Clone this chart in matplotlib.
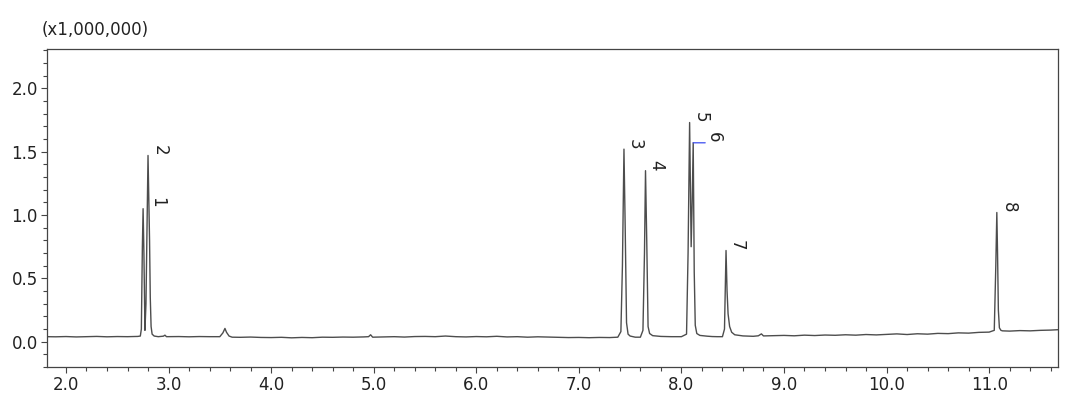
import matplotlib
matplotlib.use('Agg')
import matplotlib.pyplot as plt
from matplotlib.ticker import MultipleLocator, FormatStrFormatter

# chromatogram trace (time in min, signal in x1,000,000)
trace_time = [
    1.815, 1.90, 2.00, 2.10, 2.20, 2.30, 2.40, 2.50, 2.60, 2.70, 2.725,
    2.735, 2.745, 2.752, 2.760, 2.770, 2.780, 2.790, 2.800, 2.808, 2.815,
    2.822, 2.830, 2.840, 2.860, 2.900, 2.950, 2.965, 2.980, 3.10, 3.20,
    3.30, 3.40, 3.50, 3.530, 3.550, 3.565, 3.590, 3.620, 3.70, 3.80,
    3.90, 4.00, 4.10, 4.20, 4.30, 4.40, 4.50, 4.60, 4.70, 4.80,
    4.90, 4.950, 4.970, 4.990, 5.10, 5.20, 5.30, 5.40, 5.50, 5.60,
    5.70, 5.80, 5.90, 6.00, 6.10, 6.20, 6.30, 6.40, 6.50, 6.60,
    6.70, 6.80, 6.90, 7.00, 7.10, 7.20, 7.30, 7.38, 7.410, 7.425,
    7.440, 7.452, 7.465, 7.480, 7.500, 7.550, 7.600, 7.625, 7.640, 7.650,
    7.662, 7.675, 7.690, 7.720, 7.800, 7.900, 8.000, 8.050, 8.065, 8.080,
    8.095, 8.105, 8.115, 8.125, 8.135, 8.150, 8.180, 8.250, 8.300, 8.350,
    8.400, 8.420, 8.435, 8.445, 8.455, 8.470, 8.490, 8.520, 8.600, 8.700,
    8.750, 8.780, 8.800, 8.900, 9.000, 9.100, 9.200, 9.300, 9.400, 9.500,
    9.600, 9.700, 9.800, 9.900, 10.00, 10.10, 10.20, 10.30, 10.40, 10.50,
    10.60, 10.70, 10.80, 10.90, 11.00, 11.050, 11.065, 11.075, 11.082, 11.090,
    11.100, 11.115, 11.130, 11.200, 11.300, 11.400, 11.500, 11.600, 11.670,
]
trace_signal = [
    0.040, 0.039, 0.041, 0.038, 0.040, 0.042, 0.039, 0.041, 0.040, 0.042, 0.045,
    0.10, 0.75, 1.05, 0.70, 0.09, 0.30, 0.90, 1.47, 1.10, 0.80,
    0.35, 0.12, 0.06, 0.045, 0.040, 0.044, 0.052, 0.040, 0.041, 0.039,
    0.041, 0.040, 0.040, 0.070, 0.105, 0.075, 0.045, 0.036, 0.035, 0.037,
    0.034, 0.033, 0.035, 0.031, 0.034, 0.032, 0.036, 0.035, 0.037, 0.036,
    0.038, 0.040, 0.055, 0.036, 0.038, 0.040, 0.037, 0.041, 0.042, 0.040,
    0.045, 0.040, 0.038, 0.041, 0.039, 0.043, 0.038, 0.040, 0.036, 0.039,
    0.037, 0.035, 0.033, 0.034, 0.032, 0.034, 0.033, 0.036, 0.080, 0.60,
    1.52, 0.90, 0.15, 0.060, 0.045, 0.036, 0.036, 0.090, 0.70, 1.35,
    0.80, 0.12, 0.065, 0.048, 0.042, 0.040, 0.040, 0.060, 0.70, 1.73,
    0.75, 1.10, 1.57, 0.55, 0.13, 0.065, 0.050, 0.044, 0.041, 0.040,
    0.040, 0.10, 0.72, 0.40, 0.22, 0.12, 0.075, 0.055, 0.046, 0.043,
    0.047, 0.062, 0.046, 0.048, 0.050, 0.047, 0.052, 0.049, 0.053, 0.051,
    0.055, 0.052, 0.057, 0.054, 0.058, 0.062, 0.057, 0.063, 0.060, 0.066,
    0.064, 0.070, 0.068, 0.074, 0.076, 0.090, 0.60, 1.02, 0.70, 0.25,
    0.11, 0.090, 0.086, 0.084, 0.088, 0.086, 0.090, 0.092, 0.095,
]

# peak labels: name, retention time, label height, x offset in pixels
peak_names = ['1', '2', '3', '4', '5', '6', '7', '8']
peak_times = [2.805, 2.805, 7.440, 7.650, 8.080, 8.115, 8.435, 11.082]
peak_heights = [1.06, 1.47, 1.52, 1.35, 1.73, 1.57, 0.72, 1.02]
peak_offsets = [0, 2, 2, 2, 2, 12, 2, 2]

fig = plt.figure(figsize=(10.8, 4.12), dpi=100)
ax = fig.add_axes([0.0435, 0.109, 0.936, 0.772])

ax.plot(trace_time, trace_signal, color='#4d4d4d', lw=1.0)

for name, t, h, off in zip(peak_names, peak_times, peak_heights, peak_offsets):
    if name == '6':
        # connector from peak top to the shifted label
        ax.annotate('', xy=(t, h), xytext=(off, 0), textcoords='offset pixels',
                    arrowprops=dict(arrowstyle='-', color='#3b4cf0', lw=0.9,
                                    shrinkA=0, shrinkB=0))
    ax.annotate(name, xy=(t, h), xytext=(off, 0), textcoords='offset pixels',
                rotation=-90, ha='left', va='bottom', fontsize=12,
                color='#222222')

ax.set_xlim(1.815, 11.67)
ax.set_ylim(-0.2, 2.31)
ax.xaxis.set_major_locator(MultipleLocator(1.0))
ax.xaxis.set_minor_locator(MultipleLocator(0.2))
ax.yaxis.set_major_locator(MultipleLocator(0.5))
ax.yaxis.set_minor_locator(MultipleLocator(0.1))
ax.xaxis.set_major_formatter(FormatStrFormatter('%.1f'))
ax.yaxis.set_major_formatter(FormatStrFormatter('%.1f'))

ax.tick_params(which='major', direction='out', length=4.5, width=0.8,
               color='#444444', labelsize=12, labelcolor='#222222', pad=2)
ax.tick_params(which='minor', direction='out', length=3, width=0.8,
               color='#444444')
for sp in ax.spines.values():
    sp.set_color('#444444')
    sp.set_linewidth(0.9)

fig.text(0.039, 0.905, '(x1,000,000)', fontsize=12, color='#222222',
         ha='left', va='bottom')

fig.savefig('out.png', dpi=100)
